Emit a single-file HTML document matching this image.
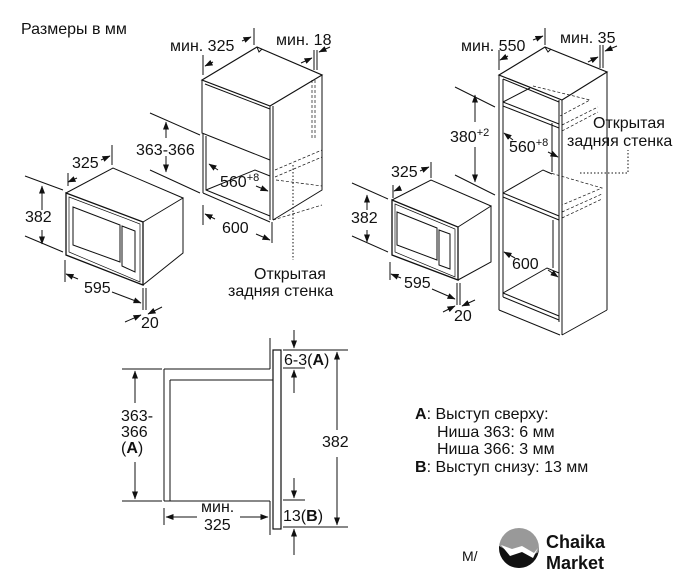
<!DOCTYPE html>
<html><head><meta charset="utf-8"><style>
html,body{margin:0;padding:0;background:#fff;}
svg{display:block;}
text{font-family:"Liberation Sans",Arial,sans-serif;fill:#111;}
</style></head><body>
<svg width="693" height="583" viewBox="0 0 693 583" xmlns="http://www.w3.org/2000/svg">
<defs>
<marker id="a" markerWidth="8" markerHeight="6" refX="7.5" refY="3" orient="auto" markerUnits="userSpaceOnUse"><path d="M0,0 L8,3 L0,6 z" fill="#111"/></marker>
</defs>
<g stroke="#111" stroke-width="1" fill="none">
<path d="M66,193 L143,222 L143,285 L66,255 Z" stroke-width="1.3"/>
<path d="M66,193 L113,168 L183,198 L143,222"/>
<path d="M183,198 L183,253 L143,285"/>
<path d="M69,197 L140,224 L140,282 L69,252 Z" stroke-width="0.7"/>
<path d="M73,207 L120,225 L120,262 L73,245 Z"/>
<path d="M122,226 L135,231 L135,272 L122,266 Z"/>
<path d="M25,176 L63,190 M25,236 L63,252"/>
<path d="M42,210 L42,186" marker-end="url(#a)"/><path d="M42,230 L42,244" marker-end="url(#a)"/>
<path d="M68,173 L68,186 M112,145 L112,165"/>
<path d="M77,178 L68,182" marker-end="url(#a)"/><path d="M101,160 L110,156" marker-end="url(#a)"/>
<path d="M65,260 L65,282 M143,288 L143,310 M146,288 L146,310"/>
<path d="M78,279 L66,274" marker-end="url(#a)"/><path d="M112,292 L141,303" marker-end="url(#a)"/>
<path d="M125,322 L141,315" marker-end="url(#a)"/><path d="M162,307 L148,314" marker-end="url(#a)"/>
<path d="M202,80 L257,47 L322,75 L270,106 Z" stroke-width="1.2"/>
<path d="M202,80 L202,133 L270,160 M205,84 L270,109"/>
<path d="M270,106 L270,220 M273,106 L273,220 M322,75 L322,190 L273,220"/>
<path d="M203,133 L203,193 M206,136 L206,190 L270,216 M203,193 L270,222"/>
<path d="M206,190 L255,170 L270,176"/>
<path d="M257,47 L259,52 L262,49"/>
<path d="M312,80 L312,140 M315,80 L315,140 M275,170 L322,150 M275,177 L322,157 M276,180 L322,186 M273,220 L322,205" stroke-dasharray="3,2" stroke-width="0.7"/>
<path d="M293,165 L293,260" stroke-dasharray="1.5,2"/>
<path d="M203,55 L203,75 M254,28 L254,45 M314,50 L314,70 M317,50 L317,70"/>
<path d="M213,62 L205,66" marker-end="url(#a)"/><path d="M242,41 L251,37" marker-end="url(#a)"/>
<path d="M301,63 L312,58" marker-end="url(#a)"/><path d="M330,47 L319,52" marker-end="url(#a)"/>
<path d="M150,113 L200,135 M150,170 L200,193"/>
<path d="M166,138 L166,122" marker-end="url(#a)"/><path d="M166,156 L166,172" marker-end="url(#a)"/>
<path d="M218,170 L209,164" marker-end="url(#a)"/><path d="M256,186 L268,191" marker-end="url(#a)"/>
<path d="M203,205 L203,225 M272,222 L272,243"/>
<path d="M215,219 L205,214" marker-end="url(#a)"/><path d="M256,234 L270,240" marker-end="url(#a)"/>
<path d="M392,200 L458,227 L458,280 L392,255 Z" stroke-width="1.3"/>
<path d="M392,200 L431,180 L491,206 L458,227 M491,206 L491,262 L458,280"/>
<path d="M395,204 L455,229 L455,277 L395,252 Z" stroke-width="0.7"/>
<path d="M397,212 L437,228 L437,260 L397,245 Z"/>
<path d="M439,230 L450,234 L450,269 L439,265 Z"/>
<path d="M352,183 L388,199 M352,236 L388,252"/>
<path d="M367,210 L367,195" marker-end="url(#a)"/><path d="M367,230 L367,242" marker-end="url(#a)"/>
<path d="M393,185 L393,198 M431,162 L431,178"/>
<path d="M401,188 L394,191" marker-end="url(#a)"/><path d="M420,171 L429,167" marker-end="url(#a)"/>
<path d="M390,262 L390,280 M457,283 L457,305 M460,283 L460,305"/>
<path d="M401,278 L391,274" marker-end="url(#a)"/><path d="M432,289 L455,299" marker-end="url(#a)"/>
<path d="M443,312 L455,306" marker-end="url(#a)"/><path d="M475,300 L462,306" marker-end="url(#a)"/>
<path d="M499,75 L545,47 L607,72 L562,100 Z" stroke-width="1.2"/>
<path d="M545,47 L548,52 L551,49"/>
<path d="M499,75 L499,310 M503,79 L503,297 M562,100 L562,335 M559,100 L559,322 M607,72 L607,310"/>
<path d="M503,79 L559,102"/>
<path d="M503,102 L559,124 M503,106 L559,128 M503,102 L530,88"/>
<path d="M503,193 L559,216 M503,197 L559,220 M503,193 L543,170 L552,174"/>
<path d="M503,293 L559,316 M503,297 L559,320 M503,293 L547,268 L559,273"/>
<path d="M499,310 L560,335 M562,335 L607,310 M552,123 L552,172 M553,220 L553,268"/>
<path d="M533,86 L590,100 L560,116 M562,125 L598,107 M562,131 L598,112 M547,172 L602,188 L562,205 M562,212 L602,194 M562,218 L602,199" stroke-dasharray="3,2" stroke-width="0.7"/>
<path d="M580,173 L628,173 L628,150" stroke-dasharray="1.5,2"/>
<path d="M499,50 L499,70 M545,28 L545,45 M600,45 L600,68 M603,45 L603,68"/>
<path d="M508,56 L500,60" marker-end="url(#a)"/><path d="M533,40 L543,36" marker-end="url(#a)"/>
<path d="M588,62 L598,57" marker-end="url(#a)"/><path d="M617,46 L605,51" marker-end="url(#a)"/>
<path d="M455,87 L495,107 M455,175 L495,195"/>
<path d="M475,122 L475,95" marker-end="url(#a)"/><path d="M475,147 L475,182" marker-end="url(#a)"/>
<path d="M513,140 L504,133" marker-end="url(#a)"/><path d="M548,152 L558,157" marker-end="url(#a)"/>
<path d="M515,258 L504,252" marker-end="url(#a)"/><path d="M548,270 L558,277" marker-end="url(#a)"/>
<path d="M164,369 L270,369 M170,380 L273,380 M164,369 L164,501 M170,380 L170,501 M164,501 L270,501"/>
<path d="M270,338 L270,369 M270,501 L270,535"/>
<rect x="273" y="350" width="8" height="179" stroke-width="1.2"/>
<path d="M122,369 L162,369 M122,501 L162,501"/>
<path d="M135,403 L135,371" marker-end="url(#a)"/><path d="M135,462 L135,499" marker-end="url(#a)"/>
<path d="M164,508 L164,525"/>
<path d="M197,517 L166,517" marker-end="url(#a)"/><path d="M240,517 L268,517" marker-end="url(#a)"/>
<path d="M283,350 L348,350 M283,368 L305,368 M283,500 L305,500 M283,527 L348,527"/>
<path d="M294,330 L294,348" marker-end="url(#a)"/><path d="M294,393 L294,370" marker-end="url(#a)"/>
<path d="M294,478 L294,498" marker-end="url(#a)"/><path d="M294,555 L294,529" marker-end="url(#a)"/>
<path d="M337,430 L337,352" marker-end="url(#a)"/><path d="M337,457 L337,525" marker-end="url(#a)"/>
</g>
<g font-size="16">
<text x="21" y="34">Размеры в мм</text>
<text x="170" y="51">мин. 325</text>
<text x="276" y="45">мин. 18</text>
<text x="72" y="168">325</text>
<text x="25" y="222">382</text>
<text x="84" y="293">595</text>
<text x="141" y="328">20</text>
<text x="136" y="155">363-366</text>
<text x="220" y="187">560<tspan font-size="11" dy="-6">+8</tspan></text>
<text x="222" y="233">600</text>
<text x="254" y="279">Открытая</text>
<text x="228" y="296">задняя стенка</text>
<text x="461" y="51">мин. 550</text>
<text x="560" y="43">мин. 35</text>
<text x="450" y="142">380<tspan font-size="11" dy="-6">+2</tspan></text>
<text x="509" y="152">560<tspan font-size="11" dy="-6">+8</tspan></text>
<text x="593" y="128">Открытая</text>
<text x="567" y="146">задняя стенка</text>
<text x="391" y="177">325</text>
<text x="351" y="223">382</text>
<text x="404" y="288">595</text>
<text x="454" y="321">20</text>
<text x="512" y="269">600</text>
<text x="121" y="421">363-</text>
<text x="121" y="437">366</text>
<text x="121" y="453">(<tspan font-weight="bold">A</tspan>)</text>
<text x="201" y="512">мин.</text>
<text x="204" y="530">325</text>
<text x="284" y="365">6-3(<tspan font-weight="bold">A</tspan>)</text>
<text x="322" y="447">382</text>
<text x="283" y="521">13(<tspan font-weight="bold">B</tspan>)</text>
<text x="415" y="419"><tspan font-weight="bold">A</tspan>: Выступ сверху:</text>
<text x="437" y="437">Ниша 363: 6 мм</text>
<text x="437" y="454">Ниша 366: 3 мм</text>
<text x="415" y="472"><tspan font-weight="bold">B</tspan>: Выступ снизу: 13 мм</text>
<text x="462" y="561" font-size="14">M/</text>
</g>
<circle cx="519" cy="548" r="20" fill="#999"/>
<path d="M499,548 A20,20 0 0 0 539,548 L539,552 L530,556 L520,548 L510,552 L499,546 Z" fill="#111"/>
<path d="M501,545 L512,549 L522,546 L534,553 L538,548 L533,558 L522,552 L510,556 Z" fill="#fff"/>
<text x="546" y="548" font-size="18" font-weight="bold">Chaika</text>
<text x="546" y="569" font-size="18" font-weight="bold">Market</text>
</svg>
</body></html>
